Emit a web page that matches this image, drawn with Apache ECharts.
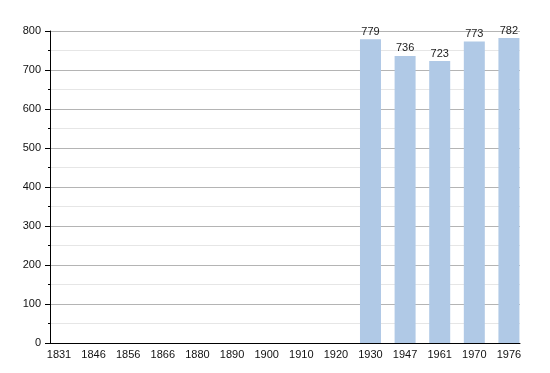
<!DOCTYPE html>
<html><head><meta charset="utf-8">
<script src="https://cdn.jsdelivr.net/npm/echarts@6/dist/echarts.min.js"></script>
<style>html,body{margin:0;padding:0;background:#fff}#c{width:550px;height:373px}</style>
</head><body><div id="c"></div>
<script>
const years = ['1831','1846','1856','1866','1880','1890','1900','1910','1920','1930','1947','1961','1970','1976'];
const population = [null,null,null,null,null,null,null,null,null,779,736,723,773,782];
const yTicks = [0,100,200,300,400,500,600,700,800];

const barData = population.map((v,i)=> v==null ? null : [i, v]).filter(d=>d);
const chart = echarts.init(document.getElementById('c'), null, {renderer:'canvas'});
chart.setOption({
  animation:false,
  grid:{left:50, right:30, top:31, bottom:30, containLabel:false},
  xAxis:{
    type:'value', min:-0.26, max:13.32,
    splitLine:{show:false},
    axisLine:{show:true, onZero:false, lineStyle:{color:'#000', width:1}},
    axisTick:{show:false},
    axisLabel:{customValues: years.map((y,i)=>i), formatter: v => years[Math.round(v)] || '',
      color:'#111', fontSize:11, fontFamily:'Liberation Sans, Arial, sans-serif', margin:6}
  },
  yAxis:{
    type:'value', min:0, max:800, interval:100,
    axisLine:{show:true, onZero:false, lineStyle:{color:'#000', width:1}},
    axisTick:{show:true, length:5, lineStyle:{color:'#000'}},
    minorTick:{show:true, splitNumber:2, length:2, lineStyle:{color:'#000'}},
    splitLine:{show:true, lineStyle:{color:'#b4b4b4', width:1}},
    minorSplitLine:{show:true, lineStyle:{color:'#e6e6e6', width:1}},
    axisLabel:{color:'#111', fontSize:11, fontFamily:'Liberation Sans, Arial, sans-serif', margin:9,
      customValues: yTicks}
  },
  series:[{
    type:'bar', data:barData, barWidth:21,
    itemStyle:{color:'#b0c9e6'},
    label:{show:true, position:'top', distance:2, color:'#222', fontSize:11,
      fontFamily:'Liberation Sans, Arial, sans-serif', formatter: p => p.value[1]}
  }]
});
</script></body></html>
